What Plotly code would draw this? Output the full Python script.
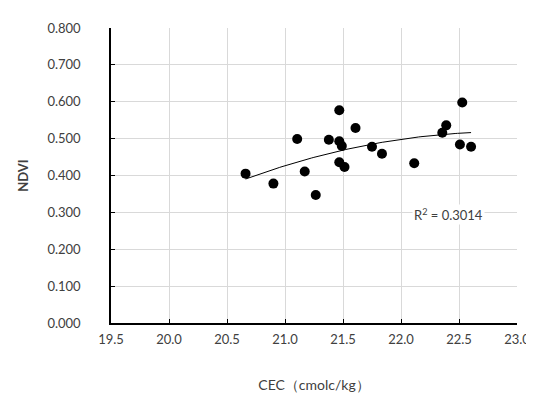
import numpy as np
import plotly.graph_objects as go

cec = [20.66, 20.90, 21.265, 21.105, 21.17, 21.378, 21.468, 21.468, 21.49, 21.468,
       21.513, 21.608, 21.75, 21.836, 22.114, 22.356, 22.39, 22.528, 22.508, 22.604]
ndvi = [0.405, 0.378, 0.347, 0.499, 0.411, 0.497, 0.577, 0.493, 0.480, 0.436,
        0.423, 0.529, 0.478, 0.459, 0.433, 0.516, 0.536, 0.598, 0.484, 0.478]
r2_label = "R<sup>2</sup> = 0.3014"
x_ticks = [19.5, 20.0, 20.5, 21.0, 21.5, 22.0, 22.5, 23.0]
y_ticks = [0.0, 0.1, 0.2, 0.3, 0.4, 0.5, 0.6, 0.7, 0.8]

coef = np.polyfit(cec, ndvi, 2)
xs = np.linspace(min(cec), max(cec), 100)
ys = np.polyval(coef, xs)

font = "Lato, 'Open Sans', sans-serif"

fig = go.Figure()
fig.add_trace(go.Scatter(x=xs, y=ys, mode="lines",
                         line=dict(color="#000000", width=1), hoverinfo="skip"))
fig.add_trace(go.Scatter(x=cec, y=ndvi, mode="markers",
                         marker=dict(color="#000000", size=10)))

fig.add_annotation(x=22.41, y=0.293, text=r2_label, showarrow=False,
                   font=dict(family=font, size=13, color="#404040"),
                   bgcolor="white", borderpad=1)

fig.update_layout(
    width=534, height=395,
    margin=dict(l=103, r=16, t=19, b=78),
    plot_bgcolor="white", paper_bgcolor="white",
    showlegend=False,
    font=dict(family=font, size=13, color="#404040"),
    xaxis=dict(range=[19.5, 23.0], tickvals=x_ticks,
               ticktext=[f"{v:.1f}" for v in x_ticks],
               showgrid=True, gridcolor="#d9d9d9", gridwidth=1,
               showline=True, linecolor="#000000", linewidth=1.5,
               ticks="inside", ticklen=4, tickcolor="#000000",
               ticklabelstandoff=4,
               zeroline=False,
               title=dict(text="CEC（cmolc/kg）", font=dict(size=14, color="#404040"), standoff=34)),
    yaxis=dict(range=[0, 0.8], tickvals=y_ticks,
               ticktext=[f"{v:.3f}" for v in y_ticks],
               showgrid=True, gridcolor="#d9d9d9", gridwidth=1,
               showline=True, linecolor="#000000", linewidth=1.5,
               ticks="inside", ticklen=4, tickcolor="#000000",
               ticklabelstandoff=26,
               zeroline=False,
               title=dict(text="<b>NDVI</b>", font=dict(size=13, color="#404040"), standoff=16)),
)

fig.write_html("out.html")
